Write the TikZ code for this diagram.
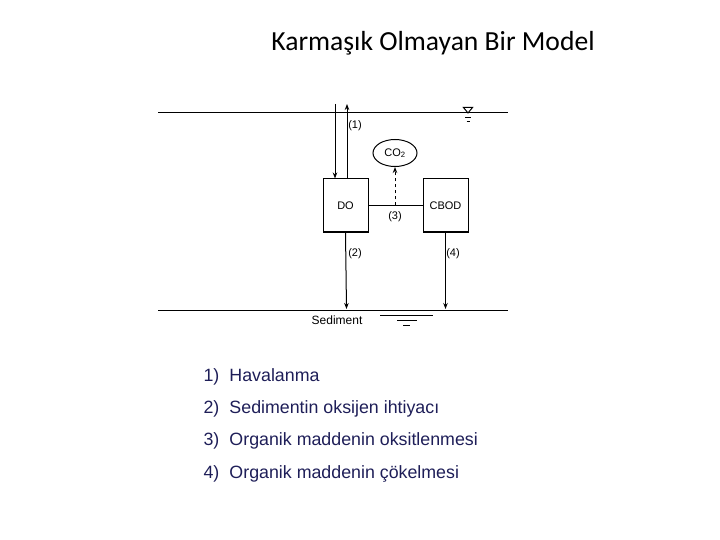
\documentclass[tikz,border=0pt]{standalone}
\usepackage{fontspec}
\setmainfont{Liberation Sans}
\newfontfamily\titlefont{Carlito}
\usetikzlibrary{arrows.meta,positioning,shapes.geometric}
\definecolor{listblue}{RGB}{30,30,88}

\begin{document}
\begin{tikzpicture}[x=1pt,y=-1pt,->,>={Stealth[length=6pt,width=4.5pt]},
		line width=1pt,font=\fontsize{11}{13}\selectfont,
		main node/.style={rectangle,draw,minimum width=45pt,minimum height=53pt,inner sep=0pt},
		gas node/.style={ellipse,draw,minimum width=44pt,minimum height=27pt,inner sep=0pt},
		text node/.style={rectangle,inner sep=0pt},
		list node/.style={text node,anchor=west,text=listblue,font=\fontsize{17.8}{20}\selectfont}]
		
		\useasboundingbox (0,0) rectangle (720,540);
		
		\node[text node,font=\titlefont\fontsize{27.6}{32}\selectfont] (title) at (433,43) {Karmaşık Olmayan Bir Model};
		
		% water surface and sediment
		\coordinate (sl) at (158,113);
		\coordinate (sr) at (508,113);
		\coordinate (bl) at (158,310);
		\coordinate (br) at (508,310);
		\draw[-] (sl) -- (sr);
		\draw[-] (bl) -- (br);
		\draw[-,fill=white] (463.5,107.5) -- (472.5,107.5) -- (468,113) -- cycle;
		\draw[-] (465,118) -- (471,118);
		\draw[-] (466.5,121.5) -- (469.5,121.5);
		
		\node[main node] (do) at (345.5,205.5) {DO};
		\node[main node] (cbod) at (445.5,205.5) {CBOD};
		\node[gas node] (co2) at (395,153) {CO\textsubscript{2}};
		
		\coordinate (in) at (335,104);
		\coordinate (out) at (347,104);
		\coordinate (mid) at (395,205.5);
		\coordinate (sed1) at (346.5,309);
		\coordinate (sed2) at (445.5,309);
		
		\path
		(in) edge (in |- do.north)
		(out |- do.north) edge (out)
		(do.east) edge [-] (cbod.west)
		(mid) edge [dashed] (co2.south)
		(do.south) edge (sed1)
		(cbod.south) edge (sed2);
		
		\node[text node] (l1) at (355,126) {(1)};
		\node[text node] (l2) at (355,254) {(2)};
		\node[text node] (l3) at (395,217) {(3)};
		\node[text node] (l4) at (453,254) {(4)};
		
		\node[text node,font=\fontsize{12}{14}\selectfont] (sed) at (337,320) {Sediment};
		\draw[-] (380,315) -- (433,315);
		\draw[-] (397,320) -- (417,320);
		\draw[-] (403,325) -- (410,325);
		
		\node[list node] (p1) at (203,377) {\makebox[26pt][l]{1)}Havalanma};
		\node[list node] (p2) at (203,409) {\makebox[26pt][l]{2)}Sedimentin oksijen ihtiyacı};
		\node[list node] (p3) at (203,441) {\makebox[26pt][l]{3)}Organik maddenin oksitlenmesi};
		\node[list node] (p4) at (203,474) {\makebox[26pt][l]{4)}Organik maddenin çökelmesi};
		
		\end{tikzpicture}
\end{document}
